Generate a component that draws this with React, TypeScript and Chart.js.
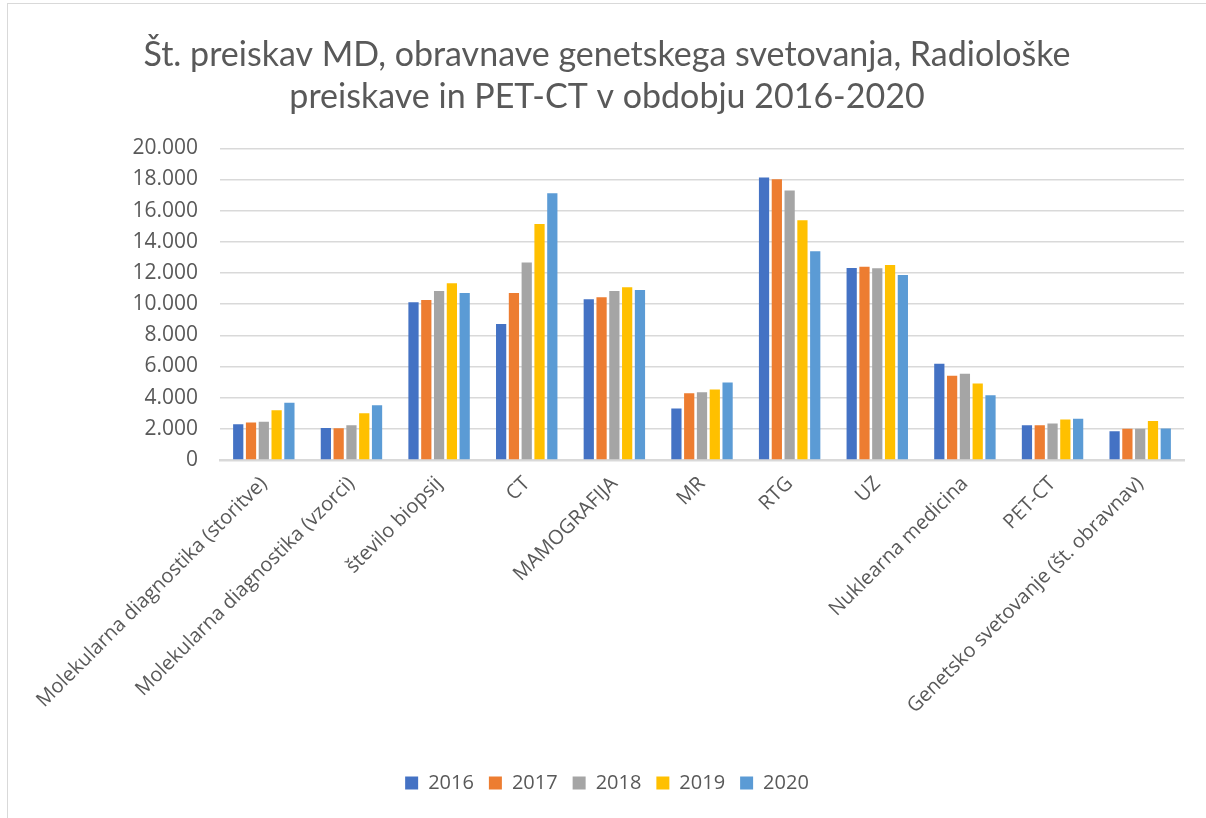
import React, { useEffect, useRef } from "react";
import { Chart, registerables } from "chart.js";

Chart.register(...registerables);

const categories = [
  "Molekularna diagnostika (storitve)",
  "Molekularna diagnostika (vzorci)",
  "število biopsij",
  "CT",
  "MAMOGRAFIJA",
  "MR",
  "RTG",
  "UZ",
  "Nuklearna medicina",
  "PET-CT",
  "Genetsko svetovanje (št. obravnav)",
];

const years = ["2016", "2017", "2018", "2019", "2020"];

const v2016 = [2300, 2060, 10130, 8720, 10320, 3300, 18130, 12320, 6170, 2230, 1850];
const v2017 = [2400, 2040, 10260, 10720, 10450, 4280, 18020, 12400, 5400, 2230, 2000];
const v2018 = [2450, 2230, 10850, 12680, 10850, 4340, 17300, 12300, 5530, 2340, 2000];
const v2019 = [3190, 3000, 11340, 15150, 11090, 4530, 15380, 12510, 4910, 2600, 2510];
const v2020 = [3680, 3510, 10720, 17110, 10910, 4980, 13400, 11870, 4150, 2640, 2020];

const seriesValues = [v2016, v2017, v2018, v2019, v2020];
const colors = ["#4472C4", "#ED7D31", "#A5A5A5", "#FFC000", "#5B9BD5"];

const titleLines = [
  "Št. preiskav MD, obravnave genetskega svetovanja, Radiološke",
  "preiskave in PET-CT v obdobju 2016-2020",
];

const fmt = (v: number) => {
  const s = String(Math.round(v));
  return s.length > 3 ? s.slice(0, s.length - 3) + "." + s.slice(-3) : s;
};

export default function App() {
  const ref = useRef<HTMLCanvasElement | null>(null);

  useEffect(() => {
    document.body.style.margin = "0";
    const canvas = ref.current;
    if (!canvas) return;
    let chart: Chart | null = null;
    let cancelled = false;
    const make = () => {
      if (cancelled) return;
      chart = new Chart(canvas, {
        type: "bar",
        data: {
          labels: categories,
          datasets: years.map((y, i) => ({
            label: y,
            data: seriesValues[i],
            backgroundColor: colors[i],
            borderWidth: 0,
            categoryPercentage: 0.73,
            barPercentage: 0.8,
          })),
        },
        options: {
          responsive: false,
          animation: false,
          maintainAspectRatio: false,
          layout: { padding: { left: 30, right: 22, top: 20, bottom: 15 } },
          plugins: {
            tooltip: { enabled: false },
            title: {
              display: true,
              text: titleLines,
              color: "#595959",
              font: { family: "Lato", size: 34, weight: "normal", lineHeight: 1.24 },
              padding: { top: 14, bottom: 30 },
            },
            legend: {
              position: "bottom",
              labels: {
                color: "#595959",
                font: { family: "'Open Sans'", size: 20 },
                boxWidth: 13,
                boxHeight: 13,
                padding: 15,
              },
            },
          },
          scales: {
            x: {
              grid: { display: false, drawTicks: false },
              border: { display: true, color: "#d9d9d9", width: 2.5 },
              ticks: {
                color: "#595959",
                font: { family: "'Open Sans'", size: 20 },
                maxRotation: 45,
                minRotation: 45,
                autoSkip: false,
                padding: 12,
              },
              afterFit: (s: any) => {
                s.height = 298;
              },
            },
            y: {
              min: 0,
              max: 20000,
              grid: { color: "#d9d9d9", lineWidth: 1.5, drawTicks: false },
              border: { display: false },
              ticks: {
                stepSize: 2000,
                color: "#595959",
                font: { family: "'Open Sans'", size: 21 },
                padding: 22,
                callback: (v: any) => fmt(Number(v)),
              },
              afterFit: (s: any) => {
                s.width = 190;
              },
            },
          },
        },
      });
    };
    const fonts: any = (document as any).fonts;
    if (fonts && fonts.load) {
      Promise.all([
        fonts.load("19px 'Open Sans'"),
        fonts.load("31px Lato"),
      ]).then(make, make);
    } else {
      make();
    }
    return () => {
      cancelled = true;
      if (chart) chart.destroy();
    };
  }, []);

  return (
    <div style={{ position: "relative", width: 1206, height: 818, background: "#fff" }}>
      <canvas ref={ref} width={1206} height={818} style={{ position: "absolute", left: 0, top: 0 }} />
      <div
        style={{
          position: "absolute",
          left: 7,
          top: 3,
          right: 0,
          bottom: 0,
          borderTop: "1.5px solid #d9d9d9",
          borderLeft: "1.5px solid #d9d9d9",
          pointerEvents: "none",
        }}
      />
    </div>
  );
}
